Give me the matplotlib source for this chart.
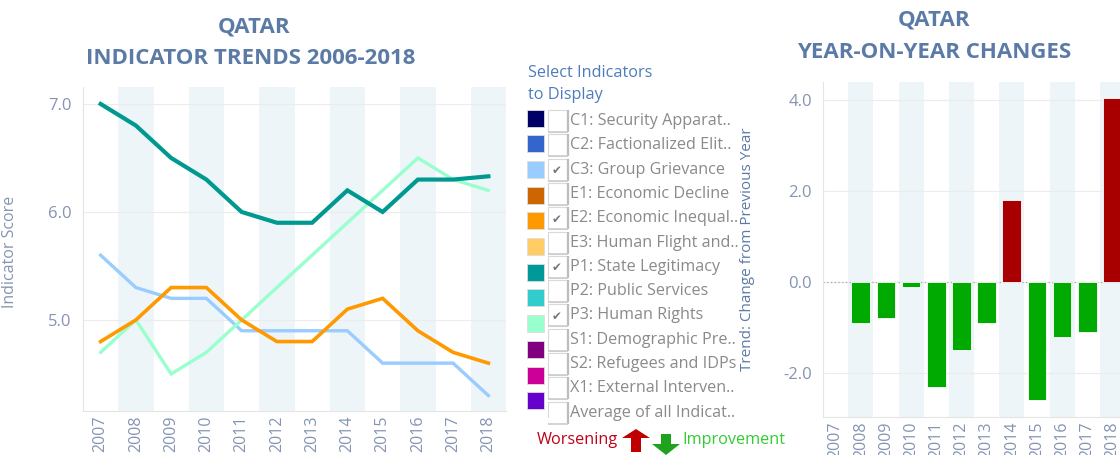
import matplotlib
matplotlib.use("Agg")
import matplotlib.pyplot as plt
from matplotlib.patches import Rectangle, Polygon

# ---------------- data ----------------
years = ["2007", "2008", "2009", "2010", "2011", "2012", "2013", "2014", "2015", "2016", "2017", "2018"]
c3_group_grievance = [5.6, 5.3, 5.2, 5.2, 4.9, 4.9, 4.9, 4.9, 4.6, 4.6, 4.6, 4.3]
e2_economic_inequality = [4.8, 5.0, 5.3, 5.3, 5.0, 4.8, 4.8, 5.1, 5.2, 4.9, 4.7, 4.6]
p1_state_legitimacy = [7.0, 6.8, 6.5, 6.3, 6.0, 5.9, 5.9, 6.2, 6.0, 6.3, 6.3, 6.33]
p3_human_rights = [4.7, 5.0, 4.5, 4.7, 5.0, 5.3, 5.6, 5.9, 6.2, 6.5, 6.3, 6.2]
yoy_years = ["2008", "2009", "2010", "2011", "2012", "2013", "2014", "2015", "2016", "2017", "2018"]
yoy_change = [-0.9, -0.8, -0.1, -2.3, -1.5, -0.9, 1.8, -2.6, -1.2, -1.1, 4.05]

legend_labels = ["C1: Security Apparat..", "C2: Factionalized Elit..", "C3: Group Grievance",
                 "E1: Economic Decline", "E2: Economic Inequal..", "E3: Human Flight and..",
                 "P1: State Legitimacy", "P2: Public Services", "P3: Human Rights",
                 "S1: Demographic Pre..", "S2: Refugees and IDPs", "X1: External Interven..",
                 "Average of all Indicat.."]
legend_colors = ["#000066", "#3366cc", "#99ccff", "#cc6600", "#ff9900", "#ffcc66",
                 "#009999", "#33cccc", "#99ffcc", "#800080", "#cc0099", "#6600cc"]
legend_checked = [False, False, True, False, True, False, True, False, True, False, False, False, False]

# ---------------- style ----------------
W, H = 1120, 455
TITLE_C = "#5b7ba6"
TICK_C = "#8594b3"
BAND_C = "#eef5f9"
GRID_C = "#ececec"
FONT = "Open Sans"
TITLE_FS = 16

fig = plt.figure(figsize=(W / 100, H / 100), dpi=100)


def px_axes(x0, y0, x1, y1):
    return fig.add_axes([x0 / W, 1 - y1 / H, (x1 - x0) / W, (y1 - y0) / H])


def style_axes(ax):
    for s in ["top", "right"]:
        ax.spines[s].set_visible(False)
    for s in ["left", "bottom"]:
        ax.spines[s].set_color("#e4e4e4")
        ax.spines[s].set_linewidth(0.8)
    ax.tick_params(axis="y", length=0, colors=TICK_C, labelsize=12, pad=8)
    ax.tick_params(axis="x", length=0, colors=TICK_C, labelsize=11.5, pad=3, labelrotation=90)
    for lab in ax.get_xticklabels() + ax.get_yticklabels():
        lab.set_fontfamily(FONT)
    ax.set_axisbelow(True)


# ---------------- left: indicator trends ----------------
ax1 = px_axes(83, 87, 506, 411)
x = list(range(len(years)))
for i in x:
    if i % 2 == 1:
        ax1.axvspan(i - 0.5, i + 0.5, color=BAND_C, lw=0, zorder=0)
ax1.plot(x, c3_group_grievance, color="#99ccff", lw=2.4, solid_joinstyle="miter")
ax1.plot(x, p3_human_rights, color="#99ffcc", lw=2.4, solid_joinstyle="miter")
ax1.plot(x, e2_economic_inequality, color="#ff9900", lw=2.6, solid_joinstyle="miter")
ax1.plot(x, p1_state_legitimacy, color="#009990", lw=3.0, solid_joinstyle="miter")
ax1.set_xlim(-0.5, len(years) - 0.5)
ax1.set_ylim(4.157, 7.157)
ax1.set_yticks([5.0, 6.0, 7.0])
ax1.set_yticklabels(["5.0", "6.0", "7.0"])
ax1.set_xticks(x)
ax1.set_xticklabels(years, va="top")
ax1.grid(axis="y", color=GRID_C, lw=0.8)
style_axes(ax1)
ax1.set_ylabel("Indicator Score", color=TICK_C, fontsize=11.5, fontfamily=FONT)
ax1.yaxis.set_label_coords((18 - 83) / 423, 0.49)

fig.text(254 / W, 1 - 27 / H, "QATAR", ha="center", va="center", color=TITLE_C,
         fontsize=TITLE_FS, fontweight="bold", fontfamily=FONT)
fig.text(251 / W, 1 - 59 / H, "INDICATOR TRENDS 2006-2018", ha="center", va="center", color=TITLE_C,
         fontsize=TITLE_FS, fontweight="bold", fontfamily=FONT)

# ---------------- right: year-on-year changes ----------------
ax2 = px_axes(823, 82, 1125, 417)
x2 = list(range(len(years)))
for i in x2:
    if i % 2 == 1:
        ax2.axvspan(i - 0.5, i + 0.5, color=BAND_C, lw=0, zorder=0)
bx = [years.index(y) for y in yoy_years]
bar_colors = ["#a80000" if v > 0 else "#00aa00" for v in yoy_change]
ax2.bar(bx, yoy_change, width=0.74, color=bar_colors, edgecolor="white", linewidth=0.6, zorder=3)
ax2.axhline(0, color="#aaaaaa", lw=0.9, ls=(0, (1, 2)), zorder=2)
ax2.set_xlim(-0.5, len(years) - 0.5)
ax2.set_ylim(-2.97, 4.4)
ax2.set_yticks([-2.0, 0.0, 2.0, 4.0])
ax2.set_yticklabels(["-2.0", "0.0", "2.0", "4.0"])
ax2.set_xticks(x2)
ax2.set_xticklabels(years, va="top")
ax2.grid(axis="y", color=GRID_C, lw=0.8)
style_axes(ax2)
ax2.set_ylabel("Trend: Change from Previous Year", color=TITLE_C, fontsize=11,
               fontfamily=FONT)
ax2.yaxis.set_label_coords((755 - 823) / 302, 0.5)

fig.text(934 / W, 1 - 20 / H, "QATAR", ha="center", va="center", color=TITLE_C,
         fontsize=TITLE_FS, fontweight="bold", fontfamily=FONT)
fig.text(934 / W, 1 - 52 / H, "YEAR-ON-YEAR CHANGES", ha="center", va="center", color=TITLE_C,
         fontsize=TITLE_FS, fontweight="bold", fontfamily=FONT)

# ---------------- legend panel ----------------
axl = px_axes(520, 60, 800, 455)
axl.set_xlim(520, 800)
axl.set_ylim(455, 60)
axl.axis("off")
axl.patch.set_alpha(0)

axl.text(528, 73, "Select Indicators", color="#4f7bbd", fontsize=11.7, fontfamily=FONT, va="center")
axl.text(528, 95, "to Display", color="#4f7bbd", fontsize=11.7, fontfamily=FONT, va="center")

clip = Rectangle((520, 60), 280, 358, transform=axl.transData, fill=False, lw=0)
axl.add_patch(clip)
for i, lab in enumerate(legend_labels):
    ty = 121 + i * 24.3
    if i < len(legend_colors):
        sy = 118 + i * 25.7
        axl.add_patch(Rectangle((527, sy - 8.5), 17, 17, facecolor=legend_colors[i],
                                edgecolor="#dddddd", lw=0.6))
    box = Rectangle((548, ty - 11), 19, 22, facecolor="white", edgecolor="#d9d9d9", lw=0.8)
    axl.add_patch(box)
    axl.plot([567.5, 567.5], [ty - 11, ty + 11], color="#bdbdbd", lw=1.6, solid_capstyle="butt")
    axl.plot([548, 567.5], [ty + 11, ty + 11], color="#cccccc", lw=1.2, solid_capstyle="butt")
    box.set_clip_path(clip)
    if legend_checked[i]:
        axl.text(557, ty + 1, "\u2714", color="#777777", fontsize=8.5, ha="center", va="center",
                 fontfamily="DejaVu Sans")
    t = axl.text(570, ty, lab, color="#8a8a8a", fontsize=11.6, fontfamily=FONT, va="center")
    t.set_clip_path(clip)

# worsening / improvement
axl.text(618, 440, "Worsening", color="#c0001a", fontsize=11.7, fontfamily=FONT, va="center", ha="right")
axl.add_patch(Polygon([[622, 438], [636, 429], [650, 438], [641, 438], [641, 452], [631, 452], [631, 438]],
                      closed=True, facecolor="#c00000", edgecolor="none"))
axl.add_patch(Polygon([[652, 444], [661, 444], [661, 434], [671, 434], [671, 444], [680, 444], [666, 455]],
                      closed=True, facecolor="#1fa31f", edgecolor="none"))
axl.text(682, 440, "Improvement", color="#33cc33", fontsize=11.7, fontfamily=FONT, va="center", ha="left")

fig.savefig("out.png", dpi=100)
